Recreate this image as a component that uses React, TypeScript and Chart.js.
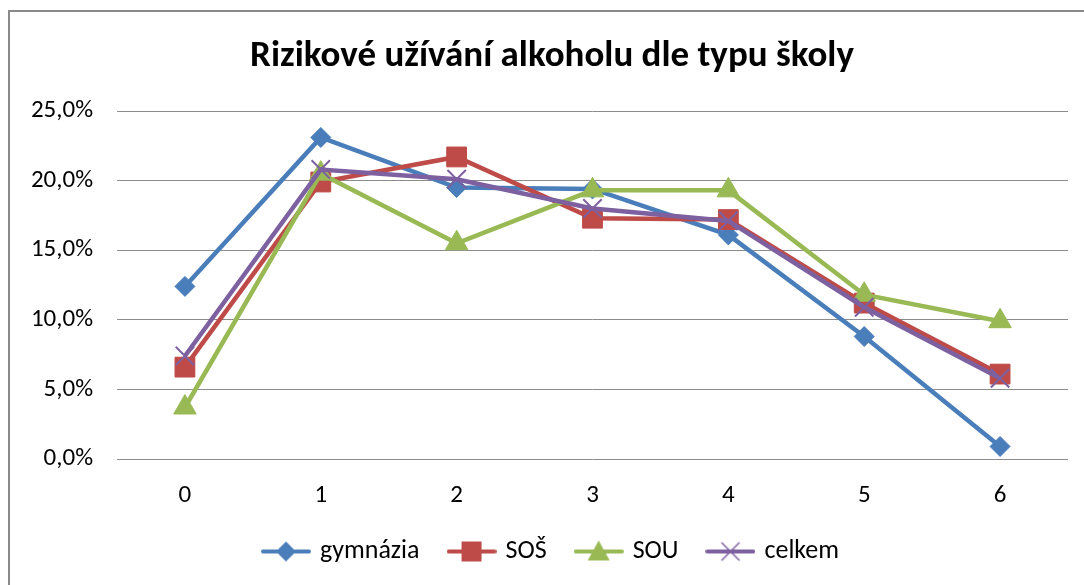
import React, { useEffect, useRef } from "react";
import { Chart, registerables } from "chart.js";

Chart.register(...registerables);

const categories = ["0", "1", "2", "3", "4", "5", "6"];
const gymnazia = [12.4, 23.1, 19.5, 19.4, 16.1, 8.8, 0.9];
const sos = [6.6, 19.9, 21.7, 17.3, 17.2, 11.2, 6.1];
const sou = [3.7, 20.5, 15.5, 19.3, 19.3, 11.8, 9.9];
const celkem = [7.4, 20.8, 20.1, 18.0, 17.1, 10.9, 5.8];
const seriesNames = ["gymnázia", "SOŠ", "SOU", "celkem"];
const yTicks = [0, 5, 10, 15, 20, 25];

const BLUE = "#4A7EBB";
const RED = "#BE4B48";
const GREEN = "#98B954";
const PURPLE = "#7D60A0";
const FONT = "Carlito, Lato, 'Open Sans', sans-serif";

function legendIcon(color: string, kind: string): HTMLCanvasElement {
  const c = document.createElement("canvas");
  const w = 50, h = 26;
  c.width = w; c.height = h;
  const ctx = c.getContext("2d")!;
  const cy = h / 2, cx = w / 2;
  ctx.strokeStyle = color;
  ctx.lineWidth = 4;
  ctx.lineCap = "round";
  ctx.beginPath();
  ctx.moveTo(2, cy);
  ctx.lineTo(w - 2, cy);
  ctx.stroke();
  ctx.fillStyle = color;
  ctx.beginPath();
  if (kind === "diamond") {
    ctx.moveTo(cx, cy - 10); ctx.lineTo(cx + 10, cy); ctx.lineTo(cx, cy + 10); ctx.lineTo(cx - 10, cy);
    ctx.closePath(); ctx.fill();
  } else if (kind === "square") {
    ctx.rect(cx - 10, cy - 10, 20, 20); ctx.fill();
  } else if (kind === "triangle") {
    ctx.moveTo(cx, cy - 11); ctx.lineTo(cx + 11, cy + 9); ctx.lineTo(cx - 11, cy + 9);
    ctx.closePath(); ctx.fill();
  } else {
    ctx.lineWidth = 1.5;
    ctx.lineCap = "butt";
    ctx.moveTo(cx - 9, cy - 9); ctx.lineTo(cx + 9, cy + 9);
    ctx.moveTo(cx + 9, cy - 9); ctx.lineTo(cx - 9, cy + 9);
    ctx.stroke();
  }
  return c;
}

export default function App() {
  const ref = useRef<HTMLCanvasElement>(null);
  useEffect(() => {
    if (!ref.current) return;
    const colors = [BLUE, RED, GREEN, PURPLE];
    const kinds = ["diamond", "square", "triangle", "cross"];
    const icons = colors.map((c, i) => legendIcon(c, kinds[i]));
    const mk = (i: number, data: number[], pointStyle: any, radius: number, order: number) => ({
      label: seriesNames[i],
      data,
      borderColor: colors[i],
      backgroundColor: colors[i],
      borderWidth: 4.5,
      pointStyle,
      pointRadius: radius,
      pointBackgroundColor: colors[i],
      pointBorderColor: colors[i],
      pointBorderWidth: pointStyle === "crossRot" ? 2 : 1,
      tension: 0,
      order,
      yAxisID: "y",
    });
    const chart = new Chart(ref.current, {
      type: "line",
      data: {
        labels: categories,
        datasets: [
          mk(0, gymnazia, "rectRot", 10, 3),
          mk(1, sos, "rect", 14, 2),
          mk(2, sou, "triangle", 13, 1),
          mk(3, celkem, "crossRot", 13, 0),
        ],
      },
      options: {
        animation: false,
        responsive: false,
        maintainAspectRatio: false,
        layout: { padding: { left: 10, right: 0, top: 0, bottom: 10.5 } },
        plugins: {
          title: {
            display: true,
            text: "Rizikové užívání alkoholu dle typu školy",
            color: "#000",
            font: { family: FONT, size: 37, weight: "bold" },
            padding: { top: 23, bottom: 31.6 },
          },
          legend: {
            position: "bottom",
            labels: {
              color: "#000",
              font: { family: FONT, size: 26 },
              usePointStyle: true,
              pointStyleWidth: 42,
              boxHeight: 26,
              padding: 31,
              generateLabels: (ch: any) =>
                ch.data.datasets.map((d: any, i: number) => ({
                  text: d.label,
                  pointStyle: icons[i],
                  fillStyle: colors[i],
                  strokeStyle: colors[i],
                  lineWidth: 0,
                  hidden: false,
                  datasetIndex: i,
                  fontColor: "#000",
                })),
            },
          },
          tooltip: { enabled: false },
        },
        scales: {
          x: {
            offset: true,
            grid: { display: false, drawTicks: false },
            border: { display: false },
            afterFit: (s: any) => {
              s.height = 48.5;
            },
            ticks: { color: "#000", font: { family: FONT, size: 25 }, padding: 22 },
          },
          y: {
            min: 0,
            max: 25,
            afterBuildTicks: (s: any) => {
              s.ticks = yTicks.map((v) => ({ value: v }));
            },
            afterFit: (s: any) => {
              s.width = 97;
            },
            grid: { color: "#8c8c8c", lineWidth: 1, drawTicks: false },
            border: { display: false },
            ticks: {
              color: "#000",
              font: { family: FONT, size: 25 },
              padding: 24,
              callback: (v: any) => Number(v).toFixed(1).replace(".", ",") + "%",
            },
          },
          spacer: {
            type: "linear",
            position: "right",
            min: 0,
            max: 25,
            grid: { display: false, drawTicks: false },
            border: { display: false },
            ticks: { display: false },
            afterFit: (s: any) => {
              s.width = 16;
            },
          },
        },
      },
    });
    return () => chart.destroy();
  }, []);
  return (
    <div
      style={{
        position: "absolute",
        left: 8,
        top: 10,
        width: 1076,
        height: 575,
        borderTop: "2px solid #8a8a8a",
        borderLeft: "2px solid #8a8a8a",
        boxSizing: "border-box",
        background: "#fff",
      }}
    >
      <canvas ref={ref} width={1074} height={573} style={{ display: "block" }} />
    </div>
  );
}
